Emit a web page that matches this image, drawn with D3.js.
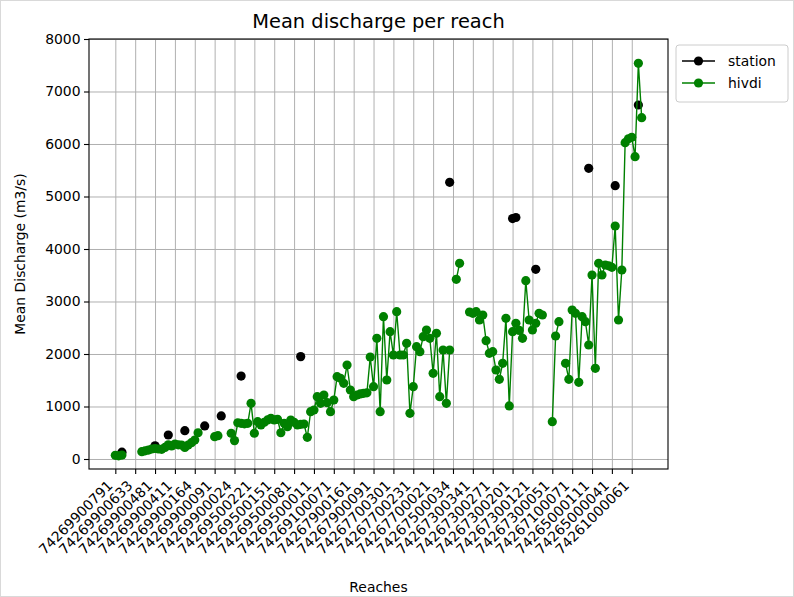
<!DOCTYPE html>
<html>
<head>
<meta charset="utf-8">
<script src="https://cdn.jsdelivr.net/npm/d3@7"></script>
<style>
  body { margin: 0; background: #ffffff; }
  svg { display: block; font-family: "DejaVu Sans", sans-serif; }
</style>
</head>
<body>
<svg id="chart" width="794" height="597"></svg>
<script>
// Reach identifiers shown on the x axis (every 6th reach is labelled)
const tickLabels = [
  "74269900791", "74269900633", "74269900481", "74269900411", "74269900164",
  "74269900091", "74269900024", "74269500221", "74269500151", "74269500081",
  "74269500011", "74269100071", "74267900161", "74267900091", "74267700301",
  "74267700231", "74267700021", "74267500034", "74267300341", "74267300271",
  "74267300201", "74267300121", "74267300051", "74267100071", "74265000111",
  "74265000041", "74261000061"
];
const tickStep = 6;

// Mean discharge at gauging stations (m3/s), null where no station
const station = [
  null, null, 130, null, null, null, null, null, null, null,
  null, null, 250, null, null, null, 457, null, null, null,
  null, 540, null, null, null, null, null, 630, null, null,
  null, null, 820, null, null, null, null, null, 1580, null,
  null, null, null, null, null, null, null, null, null, null,
  null, null, null, null, null, null, 1950, null, null, null,
  null, null, null, null, null, null, null, null, null, null,
  null, null, null, null, null, null, null, null, null, null,
  null, null, null, null, null, null, null, null, null, null,
  null, null, null, null, null, null, null, null, null, null,
  null, 5270, null, null, null, null, null, null, null, null,
  null, null, null, null, null, null, null, null, null, null,
  4580, 4600, null, null, null, null, null, 3613, null, null,
  null, null, null, null, null, null, null, null, null, null,
  null, null, null, 5537, null, null, null, null, null, null,
  null, 5206, null, null, null, null, null, null, 6743, null
];

// Mean discharge estimated by HiVDI (m3/s), null where missing
const hivdi = [
  70, 60, 75, null, null, null, null, null, 140, 155,
  170, 190, 200, 190, 185, 220, 270, 250, 285, 270,
  265, 220, 265, 310, 360, 500, null, null, null, null,
  425, 445, null, null, null, 490, 350, 690, 680, 670,
  680, 1060, 490, 710, 650, 700, 745, 775, 745, 756,
  500, 680, 615, 743, 700, 648, 660, 667, 413, 901,
  933, 1187, 1060, 1219, 1073, 901, 1124, 1568, 1537, 1442,
  1790, 1314, 1187, 1219, 1240, 1251, 1260, 1943, 1377, 2299,
  901, 2711, 1505, 2425, 1981, 2806, 1981, 1981, 2204, 870,
  1377, 2139, 2044, 2330, 2457, 2299, 1632, 2394, 1187, 2076,
  1060, 2076, null, 3423, 3727, null, null, 2800, 2775, 2806,
  2648, 2743, 2254, 2013, 2044, 1695, 1518, 1822, 2680, 1010,
  2425, 2584, 2450, 2299, 3397, 2648, 2457, 2584, 2775, 2743,
  null, null, 711, 2343, 2616, null, 1822, 1518, 2838, 2775,
  1461, 2711, 2616, 2171, 3505, 1727, 3727, 3505, 3695, 3680,
  3651, 4438, 2648, 3600, 6025, 6100, 6127, 5758, 7537, 6501
];

const yTicks = [0, 1000, 2000, 3000, 4000, 5000, 6000, 7000, 8000];

const svg = d3.select("#chart");
const plot = { left: 89, right: 668, top: 39, bottom: 469 };
const n = hivdi.length;
const padX = (n - 1) * 0.05;

const x = d3.scaleLinear().domain([-padX, n - 1 + padX]).range([plot.left, plot.right]);
const y = d3.scaleLinear().domain([-190.5, 8000]).range([plot.bottom, plot.top]);

const tickIdx = tickLabels.map((_, k) => k * tickStep);

// background
svg.append("rect").attr("width", 794).attr("height", 597).attr("fill", "#ffffff");

// grid
const grid = svg.append("g").attr("class", "grid");
grid.append("g")
  .attr("transform", `translate(0,${plot.bottom})`)
  .call(d3.axisBottom(x).tickValues(tickIdx).tickSize(-(plot.bottom - plot.top)).tickFormat(""))
  .call(g => g.select(".domain").remove());
grid.append("g")
  .attr("transform", `translate(${plot.left},0)`)
  .call(d3.axisLeft(y).tickValues(yTicks).tickSize(-(plot.right - plot.left)).tickFormat(""))
  .call(g => g.select(".domain").remove());
grid.selectAll("line").attr("stroke", "#b0b0b0").attr("stroke-width", 1);

// axes
const xAxis = svg.append("g")
  .attr("transform", `translate(0,${plot.bottom})`)
  .call(d3.axisBottom(x).tickValues(tickIdx).tickSize(5).tickPadding(3)
    .tickFormat((d, i) => tickLabels[i]));
xAxis.select(".domain").remove();
xAxis.selectAll("line").attr("stroke", "#000").attr("stroke-width", 1.1);
xAxis.selectAll("text")
  .attr("font-size", "13.9px")
  .attr("font-family", "DejaVu Sans, sans-serif")
  .attr("fill", "#000")
  .attr("text-anchor", "end")
  .attr("dy", null)
  .attr("y", null)
  .attr("transform", "translate(-2.3,17.5) rotate(-45)");

const yAxis = svg.append("g")
  .attr("transform", `translate(${plot.left},0)`)
  .call(d3.axisLeft(y).tickValues(yTicks).tickSize(5).tickPadding(3.5)
    .tickFormat(d3.format("d")));
yAxis.select(".domain").remove();
yAxis.selectAll("line").attr("stroke", "#000").attr("stroke-width", 1.1);
yAxis.selectAll("text")
  .attr("font-size", "13.9px")
  .attr("font-family", "DejaVu Sans, sans-serif")
  .attr("fill", "#000");

// frame
svg.append("rect")
  .attr("x", plot.left).attr("y", plot.top)
  .attr("width", plot.right - plot.left).attr("height", plot.bottom - plot.top)
  .attr("fill", "none").attr("stroke", "#000").attr("stroke-width", 1.1);

// series
const series = [
  { name: "station", values: station, color: "#000000" },
  { name: "hivdi", values: hivdi, color: "#008000" }
];
const line = d3.line()
  .defined(d => d.v !== null)
  .x(d => x(d.i))
  .y(d => y(d.v));

svg.append("clipPath").attr("id", "plotclip")
  .append("rect").attr("x", plot.left).attr("y", plot.top)
  .attr("width", plot.right - plot.left).attr("height", plot.bottom - plot.top);

series.forEach(s => {
  const pts = s.values.map((v, i) => ({ i, v }));
  const g = svg.append("g").attr("clip-path", "url(#plotclip)");
  g.append("path")
    .attr("d", line(pts))
    .attr("fill", "none")
    .attr("stroke", s.color)
    .attr("stroke-width", 1.4);
  g.selectAll("circle")
    .data(pts.filter(d => d.v !== null))
    .join("circle")
    .attr("cx", d => x(d.i))
    .attr("cy", d => y(d.v))
    .attr("r", 4.6)
    .attr("fill", s.color);
});

// title and axis labels
svg.append("text")
  .attr("x", (plot.left + plot.right) / 2).attr("y", 28)
  .attr("text-anchor", "middle")
  .attr("font-size", "19.4px")
  .text("Mean discharge per reach");

svg.append("text")
  .attr("transform", `translate(25,${(plot.top + plot.bottom) / 2}) rotate(-90)`)
  .attr("text-anchor", "middle")
  .attr("font-size", "13.9px")
  .text("Mean Discharge (m3/s)");

svg.append("text")
  .attr("x", (plot.left + plot.right) / 2).attr("y", 592)
  .attr("text-anchor", "middle")
  .attr("font-size", "13.9px")
  .text("Reaches");

// legend
const legend = svg.append("g").attr("transform", "translate(676,45)");
legend.append("rect")
  .attr("width", 112).attr("height", 57).attr("rx", 3)
  .attr("fill", "#ffffff").attr("fill-opacity", 0.8)
  .attr("stroke", "#cccccc").attr("stroke-width", 1);
series.forEach((s, k) => {
  const yy = 16 + k * 22;
  legend.append("line")
    .attr("x1", 6).attr("x2", 39).attr("y1", yy).attr("y2", yy)
    .attr("stroke", s.color).attr("stroke-width", 1.4);
  legend.append("circle").attr("cx", 22.5).attr("cy", yy).attr("r", 4.6).attr("fill", s.color);
  legend.append("text")
    .attr("x", 52).attr("y", yy + 5)
    .attr("font-size", "13.9px")
    .text(s.name);
});

// outer border
svg.append("rect")
  .attr("x", 0.5).attr("y", 0.5).attr("width", 793).attr("height", 596)
  .attr("fill", "none").attr("stroke", "#d9d9d9").attr("stroke-width", 1);
</script>
</body>
</html>
